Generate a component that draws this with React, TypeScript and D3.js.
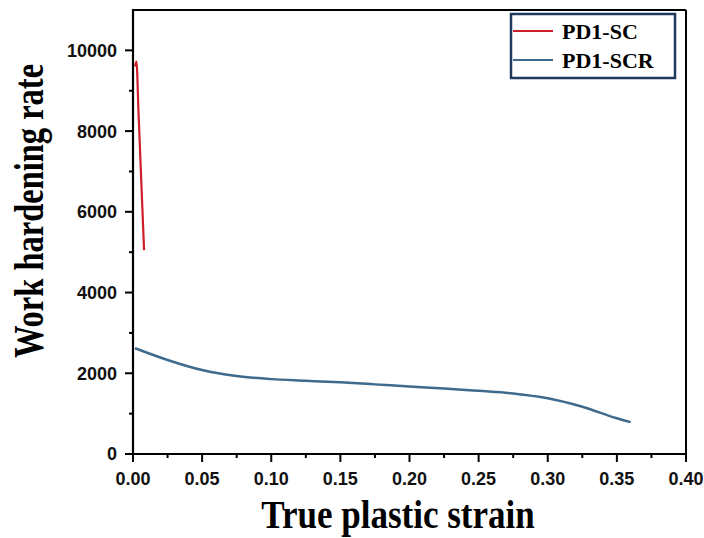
import React from "react";
import * as d3 from "d3";

// Work hardening rate vs true plastic strain for two conditions
const scStrain = [0.0015, 0.0025, 0.004, 0.006, 0.008];
const scRate = [9600, 9720, 8450, 6750, 5050];

const scrStrain = [0.0015, 0.025, 0.05, 0.075, 0.1, 0.125, 0.15, 0.175, 0.2, 0.225, 0.25, 0.275, 0.3, 0.325, 0.35, 0.36];
const scrRate = [2620, 2330, 2080, 1930, 1855, 1815, 1775, 1725, 1670, 1625, 1565, 1500, 1380, 1170, 885, 790];

const xTicks = [0, 0.05, 0.1, 0.15, 0.2, 0.25, 0.3, 0.35, 0.4];
const xMinor = [0.025, 0.075, 0.125, 0.175, 0.225, 0.275, 0.325, 0.375];
const yTicks = [0, 2000, 4000, 6000, 8000, 10000];
const yMinor = [1000, 3000, 5000, 7000, 9000];

const seriesNames = ["PD1-SC", "PD1-SCR"];
const seriesColors = ["#cc1f2a", "#3f6a8c"];

const W = 704;
const H = 538;
const left = 133;
const right = 686;
const top = 10;
const bottom = 454;

export default function App() {
  const x = d3.scaleLinear().domain([0, 0.4]).range([left, right]);
  const y = d3.scaleLinear().domain([0, 11000]).range([bottom, top]);

  const line = d3
    .line<[number, number]>()
    .x((d) => x(d[0]))
    .y((d) => y(d[1]))
    .curve(d3.curveMonotoneX);

  const scPts = scStrain.map((s, i) => [s, scRate[i]] as [number, number]);
  const scrPts = scrStrain.map((s, i) => [s, scrRate[i]] as [number, number]);

  const tickFont = "'Liberation Sans', Arial, sans-serif";
  const serif = "'Liberation Serif', 'Times New Roman', serif";

  return (
    <svg
      width={W}
      height={H}
      style={{ position: "absolute", left: 0, top: 0, background: "#fff" }}
    >
      <rect x={0} y={0} width={W} height={H} fill="#fff" />

      {/* data */}
      <path d={line(scPts) || ""} fill="none" stroke={seriesColors[0]} strokeWidth={2.2} />
      <path d={line(scrPts) || ""} fill="none" stroke={seriesColors[1]} strokeWidth={2.5} />

      {/* frame */}
      <line x1={left} x2={right} y1={top} y2={top} stroke="#000" strokeWidth={2} />
      <line x1={right} x2={right} y1={top} y2={bottom} stroke="#000" strokeWidth={2} />
      <line x1={left} x2={left} y1={top - 1} y2={bottom} stroke="#000" strokeWidth={2.2} />
      <line x1={left - 1} x2={right + 1} y1={bottom} y2={bottom} stroke="#000" strokeWidth={2.2} />

      {/* x ticks */}
      {xTicks.map((t) => (
        <g key={"xt" + t}>
          <line x1={x(t)} x2={x(t)} y1={bottom} y2={bottom + 8} stroke="#000" strokeWidth={2} />
          <text
            x={x(t)}
            y={485}
            textAnchor="middle"
            fontFamily={tickFont}
            fontWeight="bold"
            fontSize={18}
            fill="#111"
          >
            {t.toFixed(2)}
          </text>
        </g>
      ))}
      {xMinor.map((t) => (
        <line key={"xm" + t} x1={x(t)} x2={x(t)} y1={bottom} y2={bottom + 4} stroke="#000" strokeWidth={2} />
      ))}

      {/* y ticks */}
      {yTicks.map((t) => (
        <g key={"yt" + t}>
          <line x1={left - 8} x2={left} y1={y(t)} y2={y(t)} stroke="#000" strokeWidth={2} />
          <text
            x={117}
            y={y(t)}
            dy="0.36em"
            textAnchor="end"
            fontFamily={tickFont}
            fontWeight="bold"
            fontSize={18}
            fill="#111"
          >
            {t}
          </text>
        </g>
      ))}
      {yMinor.map((t) => (
        <line key={"ym" + t} x1={left - 4} x2={left} y1={y(t)} y2={y(t)} stroke="#000" strokeWidth={2} />
      ))}

      {/* axis titles */}
      <text
        transform="translate(398,528) scale(1,1.16)"
        textAnchor="middle"
        fontFamily={serif}
        fontWeight="bold"
        fontSize={35}
        fill="#000"
      >
        True plastic strain
      </text>
      <text
        transform="translate(43,211) rotate(-90) scale(1,1.28)"
        textAnchor="middle"
        fontFamily={serif}
        fontWeight="bold"
        fontSize={32.5}
        fill="#000"
      >
        Work hardening rate
      </text>

      {/* legend */}
      <rect x={511} y={14} width={164} height={64} fill="#fff" stroke="#1f3a5c" strokeWidth={2.5} />
      {seriesNames.map((n, i) => (
        <g key={n}>
          <line
            x1={513}
            x2={553}
            y1={31 + i * 29}
            y2={31 + i * 29}
            stroke={seriesColors[i]}
            strokeWidth={2.2}
          />
          <text
            x={562}
            y={39 + i * 29}
            fontFamily={serif}
            fontWeight="bold"
            fontSize={22}
            fill="#000"
          >
            {n}
          </text>
        </g>
      ))}
    </svg>
  );
}
